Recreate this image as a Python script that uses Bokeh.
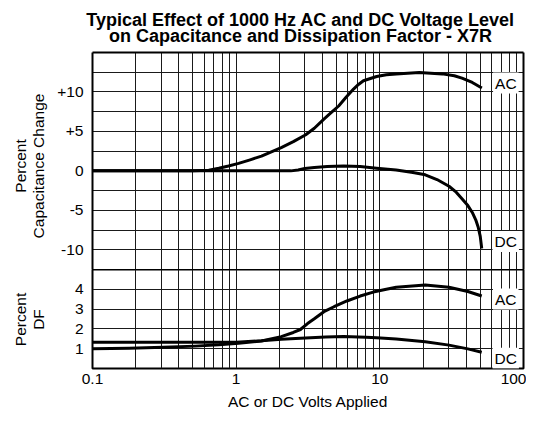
import math
from bokeh.plotting import figure
from bokeh.layouts import column, row
from bokeh.models import Range1d, FixedTicker, Label, LinearAxis
from bokeh.embed import file_html
from bokeh.resources import INLINE

# ---------------- data ----------------
ac_cap_v = [0.1, 0.5, 0.645, 0.757, 0.885, 1.04, 1.25, 1.5, 2.06, 2.5, 3.05, 3.5,
            4.08, 4.6, 5.17, 5.8, 6.56, 7.1, 7.69, 9.5, 11.1, 13, 18.8, 27.2, 33,
            37.3, 44, 51.3]
ac_cap_pct = [0, 0, 0.08, 0.33, 0.62, 0.95, 1.4, 1.87, 2.95, 3.7, 4.57, 5.4,
              6.56, 7.4, 8.22, 9.3, 10.37, 10.95, 11.42, 11.96, 12.17, 12.29, 12.45,
              12.29, 12.05, 11.75, 11.2, 10.5]

dc_cap_v = [0.1, 1, 2.4, 2.7, 3.0, 3.5, 4.3, 5.6, 7.3, 9.5, 13, 17, 20.7, 25,
            30.3, 34, 37.3, 41, 44, 46.5, 48.4, 50, 51.2]
dc_cap_pct = [0, 0, 0, 0.12, 0.29, 0.43, 0.54, 0.62, 0.54, 0.33, 0.12, -0.2, -0.5,
              -1.1, -1.95, -2.7, -3.53, -4.4, -5.27, -6.2, -7.14, -8.3, -9.84]

ac_df_v = [0.1, 0.18, 0.31, 0.52, 0.76, 1.04, 1.5, 2.06, 2.5, 2.8, 3.14, 3.5, 4.08,
           4.8, 5.9, 7.3, 9.0, 11.1, 13, 20.7, 30.3, 41, 51.2]
ac_df_pct = [1.0, 1.02, 1.07, 1.13, 1.2, 1.28, 1.39, 1.61, 1.82, 1.97, 2.27, 2.51,
             2.87, 3.12, 3.41, 3.66, 3.86, 4.0, 4.1, 4.22, 4.10, 3.89, 3.66]

dc_df_v = [0.1, 0.5, 1.0, 1.5, 2.06, 2.8, 4.2, 5.6, 8.0, 9.5, 13, 20.7, 30.3, 41, 51.2]
dc_df_pct = [1.32, 1.32, 1.33, 1.4, 1.48, 1.53, 1.59, 1.61, 1.58, 1.55, 1.49, 1.35,
             1.18, 0.99, 0.82]

x_ticks = [0.1, 1, 10, 100]
x_tick_labels = ["0.1", "1", "10", "100"]
cap_ticks = [-10, -5, 0, 5, 10]
cap_tick_labels = ["-10", "-5", "0", "+5", "+10"]
df_ticks = [1, 2, 3, 4]
df_tick_labels = ["1", "2", "3", "4"]

title_lines = ["Typical Effect of 1000 Hz AC and DC Voltage Level",
               "on Capacitance and Dissipation Factor - X7R"]
x_title = "AC or DC Volts Applied"
cap_title = ["Percent", "Capacitance Change"]
df_title = ["Percent", "DF"]

# ---------------- ranges ----------------
X_LO, X_HI = 0.1, 100
CAP_LO, CAP_HI, CAP_STEP = -12.5, 15, 2.5   # lowest row is the empty DF 5..6 row
DF_LO, DF_HI, DF_STEP = 0, 5, 1

FONT = "Liberation Sans"
FS = "15.5px"
TOTAL_W, TOTAL_H = 526, 412
TITLE_H = 50          # strip with the two title lines
SIDE_W = 48           # strip with the rotated y titles
XLAB_H = 20           # strip with the x title
PLOT_W = TOTAL_W - SIDE_W
TOP_H = 219           # 2 px border + 11 grid rows
BOT_H = TOTAL_H - TITLE_H - TOP_H - XLAB_H   # 5 grid rows + tick labels
LEFT_B, RIGHT_B, TICK_B = 44, 3, 24

x_range = Range1d(X_LO, X_HI)
x_grid_ticks = [m * 10.0 ** e for e in (-1, 0, 1) for m in range(1, 10)] + [X_HI]


def blank(w, h):
    f = figure(width=w, height=h, x_range=Range1d(0, w), y_range=Range1d(0, h),
               x_axis_location=None, y_axis_location=None, toolbar_location=None,
               output_backend="svg", min_border=0, outline_line_color=None,
               border_fill_color="white", background_fill_color="white")
    f.grid.visible = False
    return f


def style(p, y_ticks, y_labels, y_lo, y_hi, y_step):
    p.xgrid.ticker = FixedTicker(ticks=x_grid_ticks)
    n = int(round((y_hi - y_lo) / y_step))
    p.ygrid.ticker = FixedTicker(ticks=[y_lo + y_step * i for i in range(1, n)])
    for g in (p.xgrid, p.ygrid):
        g.grid_line_color = "#1a1a1a"
        g.grid_line_width = 1
        g.grid_line_alpha = 1
    for ax in p.xaxis + p.yaxis:
        ax.axis_line_color = None
        ax.major_tick_in = 0
        ax.major_tick_out = 0
        ax.minor_tick_in = 0
        ax.minor_tick_out = 0
        ax.major_label_text_font = FONT
        ax.major_label_text_font_size = FS
        ax.major_label_text_color = "black"
    p.yaxis.ticker = FixedTicker(ticks=y_ticks)
    p.yaxis.major_label_overrides = dict(zip(y_ticks, y_labels))
    p.yaxis.major_label_standoff = 9


def tag(p, text, xv, yv, dy):
    p.add_layout(Label(x=xv, y=yv, x_offset=24, y_offset=dy, text=text,
                       text_align="center", text_baseline="middle",
                       text_font=FONT, text_font_size=FS, text_color="black",
                       background_fill_color="white", padding=2))


# ---------------- title strip ----------------
tf = blank(TOTAL_W, TITLE_H)
for txt, yb in zip(title_lines, (TITLE_H - 19.5, TITLE_H - 35)):
    tf.add_layout(Label(x=300, y=yb, text=txt, text_align="center",
                        text_baseline="alphabetic", text_font=FONT,
                        text_font_size="18px", text_font_style="bold",
                        text_color="black"))

# ---------------- rotated y-title strip ----------------
SIDE_H = TOP_H + BOT_H
sf = blank(SIDE_W, SIDE_H)
for lines, yc in ((cap_title, SIDE_H - 115.5), (df_title, SIDE_H - 269)):
    for txt, xc in zip(lines, (19.5, 37.5)):
        sf.add_layout(Label(x=xc, y=yc, text=txt, angle=math.pi / 2,
                            text_align="center", text_baseline="middle",
                            text_font=FONT, text_font_size=FS, text_color="black"))

# ---------------- top panel: capacitance change ----------------
pt = figure(width=PLOT_W, height=TOP_H, x_axis_type="log", x_range=x_range,
            y_range=Range1d(CAP_LO, CAP_HI), x_axis_location=None,
            output_backend="svg", toolbar_location=None,
            min_border_left=LEFT_B, min_border_right=RIGHT_B, min_border_top=2,
            min_border_bottom=0, border_fill_color="white")
style(pt, cap_ticks, cap_tick_labels, CAP_LO, CAP_HI, CAP_STEP)
pt.outline_line_color = None
pt.yaxis.axis_line_color = "black"
pt.yaxis.axis_line_width = 2
for loc in ("above", "right"):
    pt.add_layout(LinearAxis(ticker=FixedTicker(ticks=[]), axis_line_width=2,
                             axis_line_color="black", major_tick_in=0,
                             major_tick_out=0, minor_tick_in=0, minor_tick_out=0,
                             major_label_standoff=0), loc)
pt.line(ac_cap_v, ac_cap_pct, line_width=3, color="black", line_join="round")
pt.line(dc_cap_v, dc_cap_pct, line_width=3, color="black", line_join="round")
tag(pt, "AC", ac_cap_v[-1], ac_cap_pct[-1], 5)
tag(pt, "DC", dc_cap_v[-1], dc_cap_pct[-1], 7)

# ---------------- bottom panel: dissipation factor ----------------
pb = figure(width=PLOT_W, height=BOT_H, x_axis_type="log", x_range=x_range,
            y_range=Range1d(DF_LO, DF_HI), output_backend="svg",
            toolbar_location=None, min_border_left=LEFT_B, min_border_right=RIGHT_B,
            min_border_top=0, min_border_bottom=TICK_B, border_fill_color="white")
style(pb, df_ticks, df_tick_labels, DF_LO, DF_HI, DF_STEP)
pb.outline_line_color = "black"
pb.outline_line_width = 2
pb.xaxis.ticker = FixedTicker(ticks=x_ticks)
pb.xaxis.major_label_overrides = dict(zip(x_ticks, x_tick_labels))
pb.xaxis.major_label_standoff = 5
pb.line(ac_df_v, ac_df_pct, line_width=3, color="black", line_join="round")
pb.line(dc_df_v, dc_df_pct, line_width=3, color="black", line_join="round")
tag(pb, "AC", ac_df_v[-1], ac_df_pct[-1], -3)
tag(pb, "DC", dc_df_v[-1], dc_df_pct[-1], -6)

# ---------------- x-title strip ----------------
xf = blank(TOTAL_W, XLAB_H)
frame_mid = SIDE_W + LEFT_B + (PLOT_W - LEFT_B - RIGHT_B) / 2
xf.add_layout(Label(x=frame_mid, y=XLAB_H - 9, text=x_title, text_align="center",
                    text_baseline="middle", text_font=FONT, text_font_size=FS,
                    text_color="black"))

layout = column(tf, row(sf, column(pt, pb, spacing=0), spacing=0), xf, spacing=0)
open("out.html", "w").write(file_html(layout, INLINE))
